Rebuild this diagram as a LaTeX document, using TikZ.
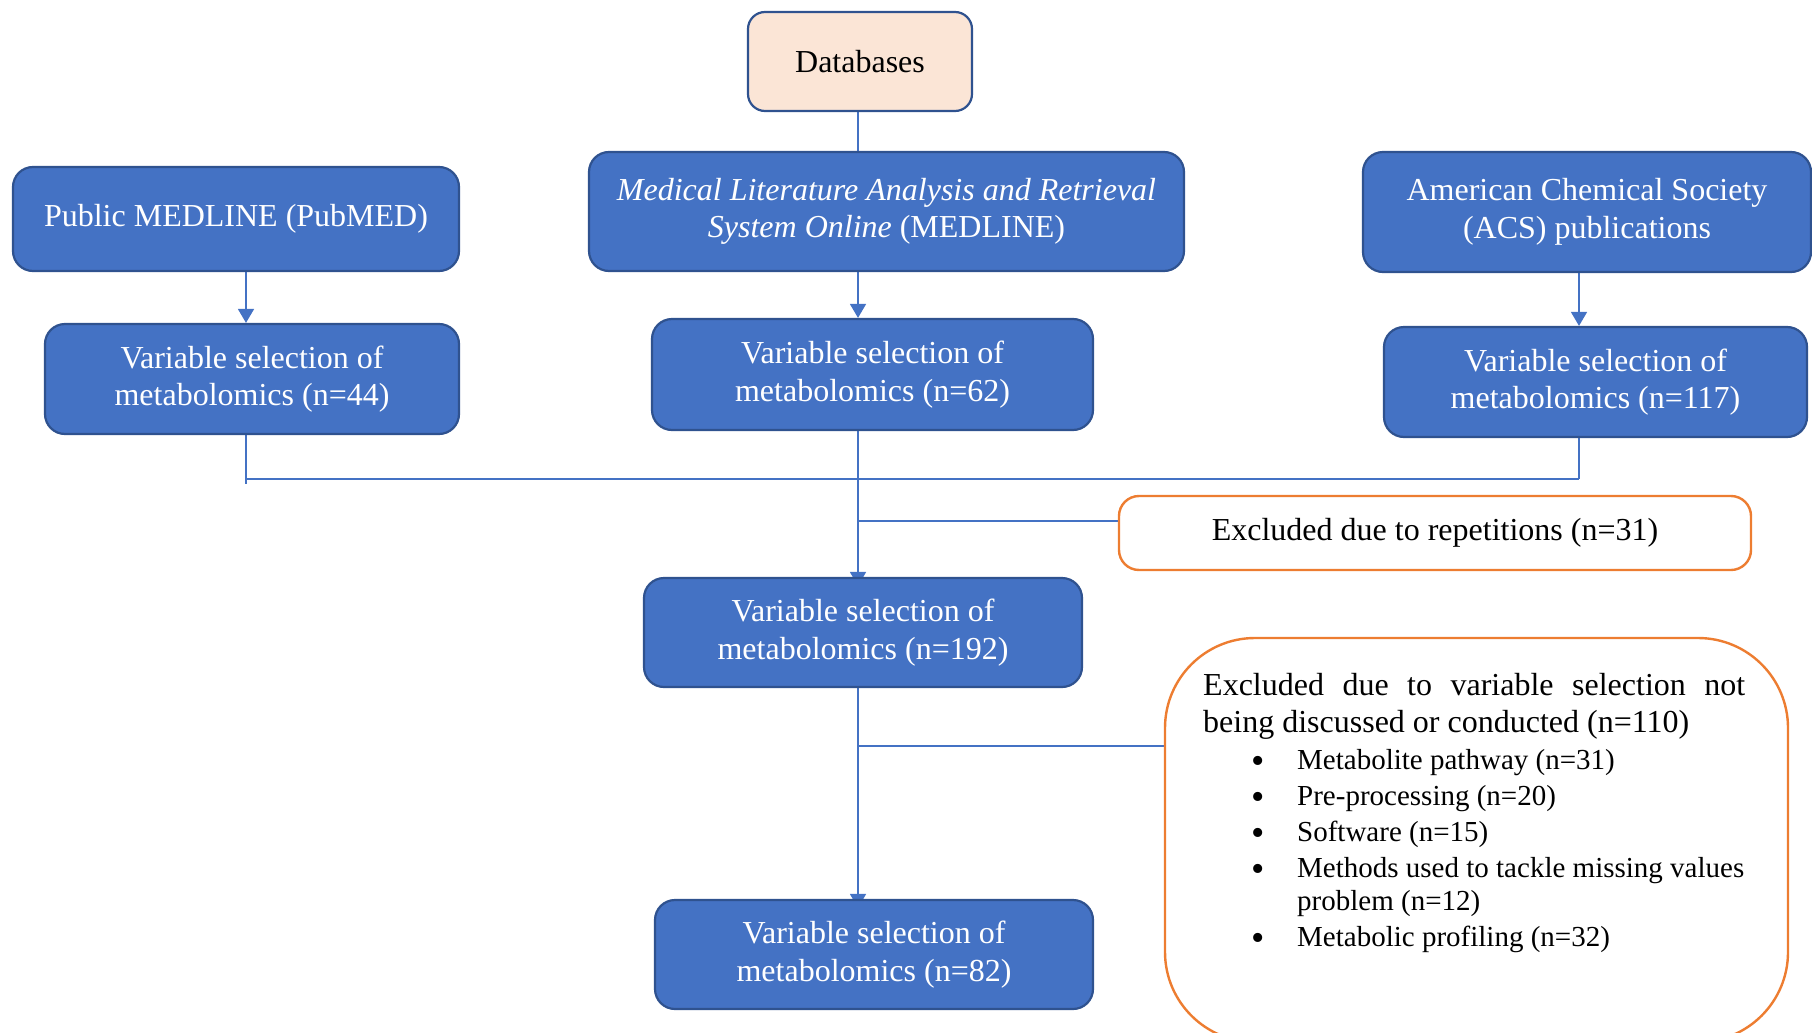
\documentclass[tikz,border=0pt]{standalone}
\usepackage{fontspec}
\setmainfont{Liberation Serif}
\usetikzlibrary{arrows.meta,backgrounds}
\definecolor{boxblue}{HTML}{4472C4}
\definecolor{boxedge}{HTML}{2F528F}
\definecolor{peach}{HTML}{FBE5D6}
\definecolor{orng}{HTML}{ED7D31}
\definecolor{linkblue}{HTML}{4472C4}
\newcommand{\mybul}{\makebox[46pt][l]{\smash{\raisebox{-4pt}{\fontsize{38}{38}\selectfont\textbullet}}}}
\begin{document}
\begin{tikzpicture}[x=1pt,y=-1pt,
  sz/.style 2 args={minimum width=#1pt, minimum height=#2pt},
  bluebox/.style={draw=boxedge, fill=boxblue, line width=2.2pt, rounded corners=20pt,
    text=white, align=center, inner sep=0pt, font=\fontsize{32}{37.5}\selectfont},
  dbbox/.style={draw=boxedge, fill=peach, line width=2.2pt, rounded corners=17pt,
    align=center, inner sep=0pt, font=\fontsize{32}{37}\selectfont},
  exbox/.style={draw=orng, fill=white, line width=2.4pt, rounded corners=#1,
    align=center, inner sep=0pt, font=\fontsize{32}{37}\selectfont},
  link/.style={draw=linkblue, line width=1.6pt},
  arr/.style={link, -{Triangle[width=16pt,length=14pt]}},
  ptxt/.style={anchor=base west, inner sep=0pt, font=\fontsize{32}{37}\selectfont},
  ltxt/.style={anchor=base west, inner sep=0pt, font=\fontsize{29}{36}\selectfont}
]
\useasboundingbox (0,0) rectangle (1812,1033);
\clip (0,0) rectangle (1812,1033);

% boxes
\node[dbbox, sz={224}{99}] (db) at (860,61.5) {Databases};
\node[bluebox, sz={446}{104}] (pub) at (236,219) {Public MEDLINE (PubMED)};
\node[bluebox, sz={595}{119}] (med) at (886.5,211.5)
  {\textit{Medical Literature Analysis and Retrieval}\\\textit{System Online} (MEDLINE)};
\node[bluebox, sz={448}{120}] (acs) at (1587,212) {American Chemical Society\\(ACS) publications};
\node[bluebox, sz={414}{110}] (v44) at (252,379) {Variable selection of\\metabolomics (n=44)};
\node[bluebox, sz={441}{111}] (v62) at (872.5,374.5) {Variable selection of\\metabolomics (n=62)};
\node[bluebox, sz={423}{110}] (v117) at (1595.5,382) {Variable selection of\\metabolomics (n=117)};
\node[exbox=20pt, sz={632}{74}] (ex1) at (1435,533) {Excluded due to repetitions (n=31)};
\node[bluebox, sz={438}{109}] (v192) at (863,632.5) {Variable selection of\\metabolomics (n=192)};
\node[exbox=90pt, sz={623}{404}] (ex2) at (1476.5,840) {};
\node[bluebox, sz={438}{109}] (v82) at (874,954.5) {Variable selection of\\metabolomics (n=82)};

% text of the second exclusion box
\node[ptxt] (p1) at (1203,695) {\makebox[542pt][s]{Excluded due to variable selection not}};
\node[ptxt] (p2) at (1203,732) {being discussed or conducted (n=110)};
\node[ltxt] (l1) at (1251,769) {\mybul Metabolite pathway (n=31)};
\node[ltxt] (l2) at (1251,805) {\mybul Pre-processing (n=20)};
\node[ltxt] (l3) at (1251,841) {\mybul Software (n=15)};
\node[ltxt] (l4) at (1251,877) {\mybul Methods used to tackle missing values};
\node[ltxt] (l5) at (1297,910) {problem (n=12)};
\node[ltxt] (l6) at (1251,946) {\mybul Metabolic profiling (n=32)};

% junction points
\coordinate (cL) at (246,479);
\coordinate (cM) at (858,479);
\coordinate (cR) at (1579,479);
\coordinate (b1) at (858,521);
\coordinate (b2) at (858,746);

\begin{scope}[on background layer]
  \draw[link] (db.south -| cM) -- (med.north -| cM);
  \draw[arr] (pub.south -| cL) -- (v44.north -| cL);
  \draw[arr] (med.south -| cM) -- (v62.north -| cM);
  \draw[arr] (acs.south -| cR) -- (v117.north -| cR);
  \draw[link] (v44.south -| cL) -- ++(0,49);
  \draw[link] (v117.south -| cR) -- (cR);
  \draw[link] (cL) -- (cR);
  \draw[arr, shorten >=-9pt] (v62.south -| cM) -- (v192.north -| cM);
  \draw[link] (b1) -- (b1 -| ex1.west);
  \draw[arr, shorten >=-9pt] (v192.south -| cM) -- (v82.north -| cM);
  \draw[link] (b2) -- (b2 -| ex2.west);
\end{scope}
\end{tikzpicture}
\end{document}
